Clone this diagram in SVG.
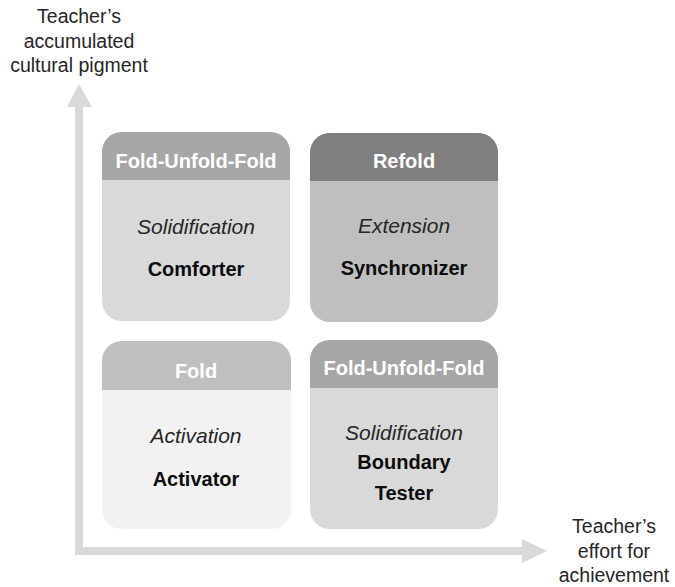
<svg xmlns="http://www.w3.org/2000/svg" width="675" height="587" viewBox="0 0 675 587">
  <style>
    .axis-label { font-family: "Liberation Sans", Arial, sans-serif; font-size: 19.5px; fill: #262626; text-anchor: middle; }
    .head { font-family: "Liberation Sans", Arial, sans-serif; font-size: 20px; font-weight: bold; fill: #ffffff; text-anchor: middle; }
    .phase { font-family: "Liberation Sans", Arial, sans-serif; font-size: 21px; font-style: italic; fill: #262626; text-anchor: middle; }
    .role { font-family: "Liberation Sans", Arial, sans-serif; font-size: 20px; font-weight: bold; fill: #0d0d0d; text-anchor: middle; }
    .axis { fill: #d9d9d9; }
  </style>
  <rect width="675" height="587" fill="#ffffff"/>

  <!-- axes -->
  <g id="connectors">
    <path class="axis" d="M75 105 H83 V547 H524 V555 H75 Z"/>
    <polygon class="axis" points="67,107 79,84 92,107"/>
    <polygon class="axis" points="522,539 547,551 522,563"/>
  </g>

  <!-- axis labels -->
  <g id="y-label">
    <text class="axis-label" x="79" y="23">Teacher’s</text>
    <text class="axis-label" x="79" y="48">accumulated</text>
    <text class="axis-label" x="79" y="72">cultural pigment</text>
  </g>
  <g id="x-label">
    <text class="axis-label" x="614" y="533">Teacher’s</text>
    <text class="axis-label" x="614" y="558">effort for</text>
    <text class="axis-label" x="614" y="582">achievement</text>
  </g>

  <!-- top-left quadrant -->
  <g id="comforter">
    <rect x="102" y="132" width="188" height="189" rx="20" fill="#d9d9d9"/>
    <path d="M102 180 V152 A20 20 0 0 1 122 132 H270 A20 20 0 0 1 290 152 V180 Z" fill="#a6a6a6"/>
    <text class="head" x="196" y="168">Fold-Unfold-Fold</text>
    <text class="phase" x="196" y="234">Solidification</text>
    <text class="role" x="196" y="276">Comforter</text>
  </g>

  <!-- top-right quadrant -->
  <g id="synchronizer">
    <rect x="310" y="133" width="188" height="189" rx="20" fill="#bfbfbf"/>
    <path d="M310 181 V153 A20 20 0 0 1 330 133 H478 A20 20 0 0 1 498 153 V181 Z" fill="#7f7f7f"/>
    <text class="head" x="404" y="168">Refold</text>
    <text class="phase" x="404" y="233">Extension</text>
    <text class="role" x="404" y="275">Synchronizer</text>
  </g>

  <!-- bottom-left quadrant -->
  <g id="activator">
    <rect x="102" y="341" width="189" height="188" rx="20" fill="#f2f2f2"/>
    <path d="M102 390 V361 A20 20 0 0 1 122 341 H271 A20 20 0 0 1 291 361 V390 Z" fill="#bfbfbf"/>
    <text class="head" x="196" y="378">Fold</text>
    <text class="phase" x="196" y="443">Activation</text>
    <text class="role" x="196" y="486">Activator</text>
  </g>

  <!-- bottom-right quadrant -->
  <g id="boundary-tester">
    <rect x="310" y="340" width="188" height="189" rx="20" fill="#d9d9d9"/>
    <path d="M310 388 V360 A20 20 0 0 1 330 340 H478 A20 20 0 0 1 498 360 V388 Z" fill="#a6a6a6"/>
    <text class="head" x="404" y="375">Fold-Unfold-Fold</text>
    <text class="phase" x="404" y="440">Solidification</text>
    <text class="role" x="404" y="469">Boundary</text>
    <text class="role" x="404" y="500">Tester</text>
  </g>
</svg>
